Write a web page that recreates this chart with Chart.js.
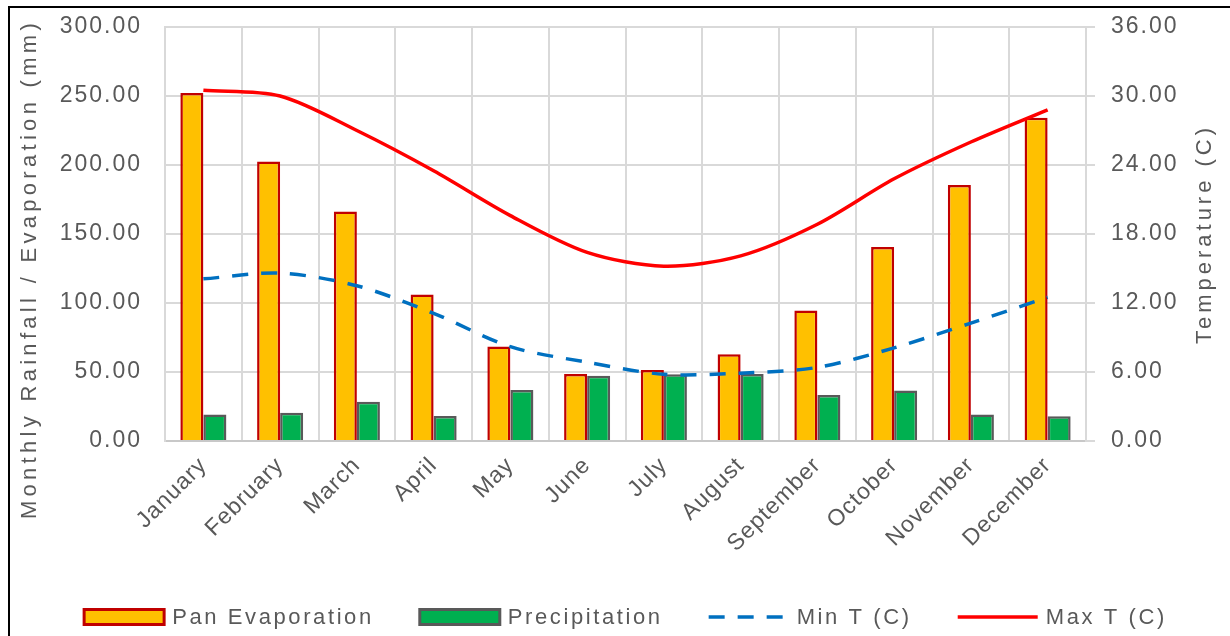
<!DOCTYPE html>
<html>
<head>
<meta charset="utf-8">
<script src="https://cdn.jsdelivr.net/npm/chart.js@4/dist/chart.umd.min.js"></script>
<style>
  html, body { margin: 0; padding: 0; background: #fff; overflow: hidden; }
  #wrap { position: relative; width: 1230px; height: 636px; background: #fff; }
  #wrap canvas { position: absolute; left: 0; top: 0; }
  #frame { position: absolute; left: 8px; top: 6px; width: 1300px; height: 700px;
           border-left: 2px solid #000; border-top: 2px solid #000; pointer-events: none; }
</style>
</head>
<body>
<div id="wrap">
  <canvas id="chart" width="1230" height="636"></canvas>
  <div id="frame"></div>
</div>
<script>
// Monthly climate data
const months = ['January', 'February', 'March', 'April', 'May', 'June',
                'July', 'August', 'September', 'October', 'November', 'December'];
const panEvaporation = [252.2, 202.5, 166.3, 106.1, 68.5, 48.6, 51.5, 62.9, 94.5, 140.6, 185.5, 234.3];
const precipitation  = [19.2, 20.4, 28.4, 18.2, 36.9, 47.3, 48.3, 48.6, 33.3, 36.6, 19.2, 18.0];
const minTemp        = [14.1, 14.6, 13.5, 11.1, 8.2, 6.85, 5.8, 5.9, 6.4, 8.1, 10.25, 12.5];
const maxTemp        = [30.5, 30.0, 27.0, 23.5, 19.6, 16.4, 15.2, 16.1, 18.85, 22.8, 26.0, 28.8];

// Axis ranges and tick steps
const rainAxis = { min: 0, max: 300, step: 50 };
const tempAxis = { min: 0, max: 36, step: 6 };

const FONT = '"Liberation Sans", Arial, sans-serif';
const TEXT = '#595959';
const GRID = '#D9D9D9';

// Per-axis letter spacing for the wide, airy label style
const spacing = {
  x:  { labels: '1px' },
  y:  { labels: '2px', title: '4.3px' },
  y1: { labels: '2px', title: '4px' }
};
const leftTitleShift = 35; // moves the long left title down a little

// Find the base Scale prototype and wrap its text drawing
function findScaleProto() {
  if (Chart.Scale && Chart.Scale.prototype.drawLabels) return Chart.Scale.prototype;
  let p = Chart.registry.getScale('linear').prototype;
  while (p && !Object.prototype.hasOwnProperty.call(p, 'drawLabels')) p = Object.getPrototypeOf(p);
  return p;
}
const scaleProto = findScaleProto();
const baseDrawLabels = scaleProto.drawLabels;
const baseDrawTitle = scaleProto.drawTitle;

scaleProto.drawLabels = function (area) {
  const ctx = this.ctx;
  const s = spacing[this.id];
  ctx.save();
  if (s && s.labels) ctx.letterSpacing = s.labels;
  baseDrawLabels.call(this, area);
  ctx.restore();
};

scaleProto.drawTitle = function () {
  const ctx = this.ctx;
  const s = spacing[this.id];
  const t = this.options.title;
  ctx.save();
  if (s && s.title) ctx.letterSpacing = s.title;
  if (this.id === 'y') ctx.translate(0, leftTitleShift);
  if (this.id === 'y1' && t && t.display) {
    // read the right-hand title bottom-to-top, like the left one
    const size = (t.font && t.font.size) || 22;
    const lh = size * 1.2;
    const padTop = (typeof t.padding === 'object') ? (t.padding.top || 0) : (t.padding || 0);
    const cx = this.right - padTop - lh / 2;
    const cy = (this.top + this.bottom) / 2;
    ctx.translate(cx, cy);
    ctx.rotate(Math.PI);
    ctx.translate(-cx, -cy);
  }
  baseDrawTitle.call(this);
  ctx.restore();
};

// Legend drawn along the bottom of the figure
const bottomLegend = {
  id: 'bottomLegend',
  afterDraw(chart) {
    const ctx = chart.ctx;
    const boxW = 80, boxH = 15, textGap = 8, itemGap = 46, cy = 617;
    ctx.save();
    ctx.font = '22px ' + FONT;
    ctx.letterSpacing = '2.6px';
    ctx.textBaseline = 'middle';
    ctx.textAlign = 'left';
    const items = chart.data.datasets.map(ds => ({
      ds, w: boxW + textGap + ctx.measureText(ds.label).width
    }));
    const total = items.reduce((a, it) => a + it.w, 0) + itemGap * (items.length - 1);
    let x = (chart.chartArea.left + chart.chartArea.right) / 2 - total / 2;
    items.forEach(({ ds, w }) => {
      if (ds.type === 'line') {
        ctx.save();
        ctx.strokeStyle = ds.borderColor;
        ctx.lineWidth = ds.borderWidth;
        ctx.setLineDash(ds.borderDash || []);
        ctx.beginPath();
        ctx.moveTo(x, cy);
        ctx.lineTo(x + boxW, cy);
        ctx.stroke();
        ctx.restore();
      } else {
        ctx.save();
        ctx.fillStyle = ds.backgroundColor;
        ctx.fillRect(x, cy - boxH / 2, boxW, boxH);
        ctx.strokeStyle = ds.borderColor;
        ctx.lineWidth = 3;
        ctx.strokeRect(x, cy - boxH / 2, boxW, boxH);
        ctx.restore();
      }
      ctx.fillStyle = TEXT;
      ctx.fillText(ds.label, x + boxW + textGap, cy + 1);
      x += w + itemGap;
    });
    ctx.restore();
  }
};

// Fixed box sizes keep the plot area in place
function fixVertical(width) {
  return s => { s.width = width; s.paddingTop = 0; s.paddingBottom = 0; };
}

new Chart(document.getElementById('chart'), {
  data: {
    labels: months,
    datasets: [
      {
        type: 'bar', label: 'Pan Evaporation', data: panEvaporation, yAxisID: 'y',
        backgroundColor: '#FFC000', borderColor: '#C00000', borderWidth: 2.5,
        barPercentage: 1.0, categoryPercentage: 0.6, order: 2
      },
      {
        type: 'bar', label: 'Precipitation', data: precipitation, yAxisID: 'y',
        backgroundColor: '#00B050', borderColor: '#595959', borderWidth: 2.5,
        barPercentage: 1.0, categoryPercentage: 0.6, order: 2
      },
      {
        type: 'line', label: 'Min T (C)', data: minTemp, yAxisID: 'y1',
        borderColor: '#0070C0', borderWidth: 3.5, borderDash: [16, 13],
        pointRadius: 0, tension: 0.3, fill: false, order: 1
      },
      {
        type: 'line', label: 'Max T (C)', data: maxTemp, yAxisID: 'y1',
        borderColor: '#FF0000', borderWidth: 3.5,
        pointRadius: 0, tension: 0.3, fill: false, order: 0
      }
    ]
  },
  options: {
    responsive: false,
    animation: false,
    devicePixelRatio: 1,
    layout: { padding: { left: 10, right: 8, top: 27, bottom: 55 } },
    plugins: {
      legend: { display: false },
      tooltip: { enabled: false }
    },
    scales: {
      x: {
        offset: true,
        grid: { offset: true, color: GRID, lineWidth: 2, drawTicks: false },
        border: { display: true, color: '#C8C8C8', width: 2 },
        ticks: {
          color: TEXT, font: { family: FONT, size: 23 },
          minRotation: 45, maxRotation: 45, autoSkip: false, padding: 11
        },
        afterFit(s) { s.height = 140; s.paddingTop = 0; s.paddingBottom = 0; }
      },
      y: {
        position: 'left',
        min: rainAxis.min, max: rainAxis.max,
        grid: { color: GRID, lineWidth: 2, drawTicks: false },
        border: { display: true, color: GRID, width: 2 },
        ticks: {
          stepSize: rainAxis.step, color: TEXT, font: { family: FONT, size: 23 }, padding: 23,
          callback: v => Number(v).toFixed(2)
        },
        title: {
          display: true, text: 'Monthly Rainfall / Evaporation (mm)',
          color: TEXT, font: { family: FONT, size: 22 }, padding: { top: 7, bottom: 0 }
        },
        afterFit: fixVertical(155)
      },
      y1: {
        position: 'right',
        min: tempAxis.min, max: tempAxis.max,
        grid: { drawOnChartArea: false, color: GRID, lineWidth: 2, drawTicks: true, tickLength: 9 },
        border: { display: true, color: GRID, width: 2 },
        ticks: {
          stepSize: tempAxis.step, color: TEXT, font: { family: FONT, size: 23 }, padding: 16,
          callback: v => Number(v).toFixed(2)
        },
        title: {
          display: true, text: 'Temperature (C)',
          color: TEXT, font: { family: FONT, size: 22 }, padding: { top: 4, bottom: 0 }
        },
        afterFit: fixVertical(136)
      }
    }
  },
  plugins: [bottomLegend]
});
</script>
</body>
</html>
